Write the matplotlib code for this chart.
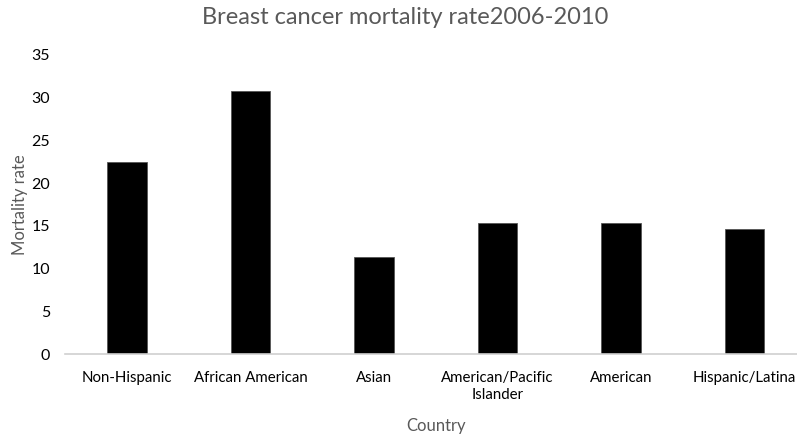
import matplotlib
matplotlib.use("Agg")
import matplotlib.pyplot as plt

categories = ["Non-Hispanic", "African American", "Asian",
              "American/Pacific\nIslander", "American", "Hispanic/Latina"]
mortality = [22.5, 30.8, 11.4, 15.3, 15.3, 14.6]
yticks = [0, 5, 10, 15, 20, 25, 30, 35]

plt.rcParams["font.family"] = ["Lato", "DejaVu Sans"]

W, H = 797, 438
fig = plt.figure(figsize=(W / 100, H / 100), dpi=100)
ax = fig.add_axes([65.25 / W, 84 / H, 740.75 / W, 299 / H])

x = range(len(categories))
ax.bar(x, mortality, width=0.32, color="black", edgecolor="#555555", linewidth=0.6)

ax.set_xlim(-0.5, len(categories) - 0.5)
ax.set_ylim(0, 35)
ax.set_yticks(yticks)
ax.set_xticks(list(x))
ax.set_xticklabels(categories, fontsize=10.8, color="black", linespacing=1.3)
ax.tick_params(axis="y", length=0, pad=11, labelsize=11.5, labelcolor="black")
ax.tick_params(axis="x", length=0, pad=12)

for side in ("top", "right", "left"):
    ax.spines[side].set_visible(False)
ax.spines["bottom"].set_color("#d0d0d0")
ax.spines["bottom"].set_linewidth(1.2)

fig.text(20 / W, 1 - 205 / H, "Mortality rate", rotation=90,
         ha="center", va="center", fontsize=12, color="#595959")
fig.text(436 / W, 1 - 426 / H, "Country",
         ha="center", va="center", fontsize=12, color="#595959")
fig.text(405 / W, 1 - 18 / H, "Breast cancer mortality rate2006-2010",
         ha="center", va="center", fontsize=17, color="#595959")

fig.savefig("out.png", dpi=100)
